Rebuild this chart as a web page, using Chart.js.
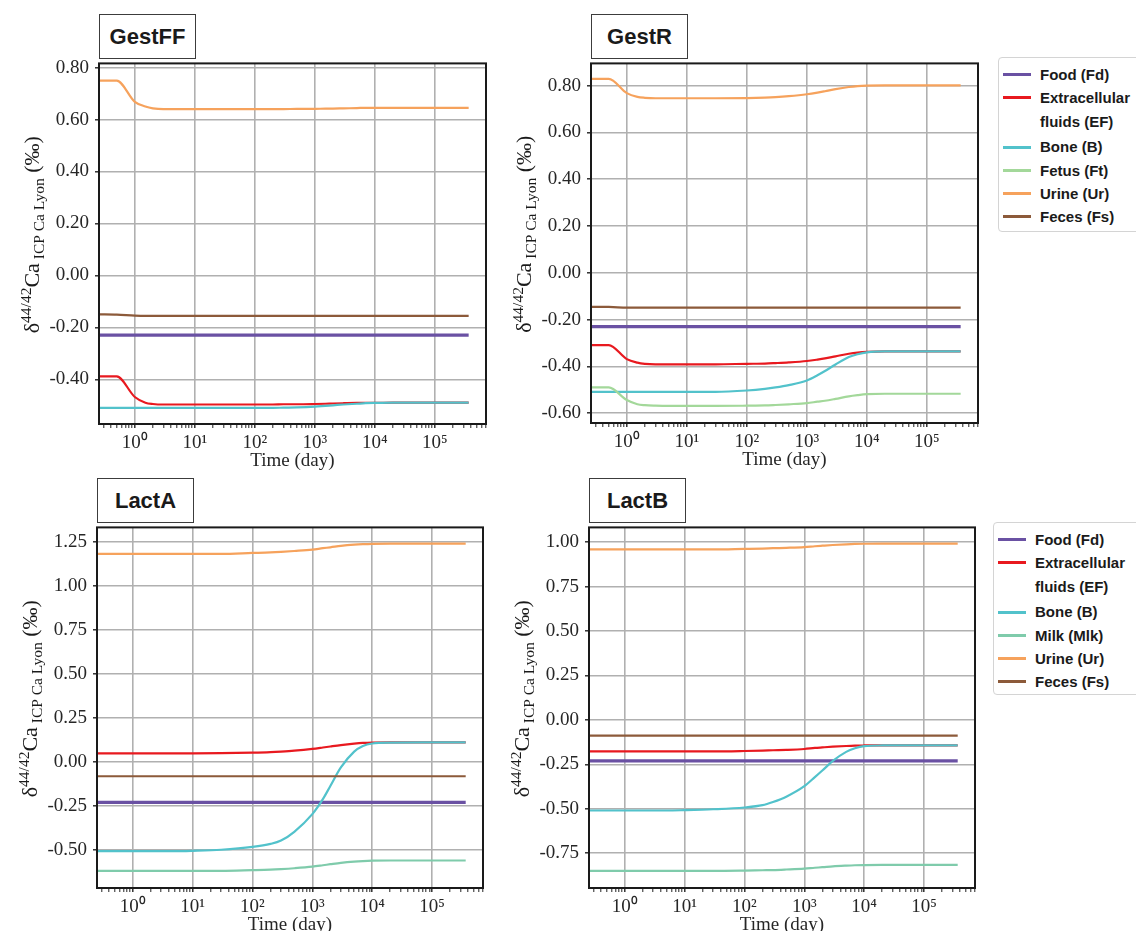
<!DOCTYPE html>
<html>
<head>
<meta charset="utf-8">
<script src="https://cdn.jsdelivr.net/npm/chart.js@4.4.1/dist/chart.umd.min.js"></script>
<style>
  html, body { margin:0; padding:0; background:#fff; }
  body { width:1136px; height:931px; overflow:hidden; position:relative; }
  canvas { position:absolute; }
  .tab { position:absolute; box-sizing:border-box; border:1px solid #3c3c3c; background:#fff;
         font:bold 22px 'Liberation Sans', Arial, sans-serif; color:#1a1a1a;
         display:flex; align-items:center; justify-content:center; }
  .legend { position:absolute; box-sizing:border-box; border:1px solid #d4d4d4; border-radius:4px;
            background:#fff; font:bold 15px 'Liberation Sans', Arial, sans-serif; color:#1a1a1a;
            padding-top:5px; line-height:23.3px; }
  .item { display:flex; align-items:flex-start; }
  .item.multi { margin-bottom:2.5px; }
  .sample { width:28px; height:3px; margin:10.2px 9px 0 4px; flex:none; }
</style>
</head>
<body>
<script>
// ---------------- data ----------------
const timeDays = [0.25, 0.5, 1, 1.5, 2, 3, 5, 10, 30, 100, 200, 300, 500, 1000, 1500, 2000, 3000, 5000, 7000, 10000, 20000, 100000, 365000];

const xMajorTicks  = [1, 10, 100, 1000, 10000, 100000];
const xMajorLabels = ['10⁰', '10¹', '10²', '10³', '10⁴', '10⁵'];
const xMinorFactors = [2, 3, 4, 5, 6, 7, 8, 9];

const yTicksGestFF = [-0.4, -0.2, 0, 0.2, 0.4, 0.6, 0.8];
const yTicksGestR  = [-0.6, -0.4, -0.2, 0, 0.2, 0.4, 0.6, 0.8];
const yTicksLactA  = [-0.5, -0.25, 0, 0.25, 0.5, 0.75, 1.0, 1.25];
const yTicksLactB  = [-0.75, -0.5, -0.25, 0, 0.25, 0.5, 0.75, 1.0];

const panelTitles = ['GestFF', 'GestR', 'LactA', 'LactB'];

// GestFF
const gestFF_food  = [-0.230,-0.230,-0.230,-0.230,-0.230,-0.230,-0.230,-0.230,-0.230,-0.230,-0.230,-0.230,-0.230,-0.230,-0.230,-0.230,-0.230,-0.230,-0.230,-0.230,-0.230,-0.230,-0.230];
const gestFF_ef    = [-0.389,-0.389,-0.468,-0.490,-0.495,-0.497,-0.497,-0.497,-0.497,-0.497,-0.497,-0.496,-0.496,-0.495,-0.494,-0.493,-0.492,-0.491,-0.491,-0.491,-0.490,-0.490,-0.490];
const gestFF_bone  = [-0.510,-0.510,-0.510,-0.510,-0.510,-0.510,-0.510,-0.510,-0.510,-0.510,-0.510,-0.509,-0.508,-0.505,-0.502,-0.500,-0.497,-0.494,-0.492,-0.491,-0.490,-0.490,-0.490];
const gestFF_urine = [0.750,0.750,0.668,0.650,0.643,0.640,0.640,0.640,0.640,0.640,0.640,0.640,0.641,0.641,0.642,0.642,0.643,0.644,0.645,0.645,0.645,0.645,0.645];
const gestFF_feces = [-0.150,-0.151,-0.155,-0.156,-0.156,-0.156,-0.156,-0.156,-0.156,-0.156,-0.156,-0.156,-0.156,-0.156,-0.156,-0.156,-0.156,-0.156,-0.156,-0.156,-0.156,-0.156,-0.156];

// GestR
const gestR_food  = [-0.230,-0.230,-0.230,-0.230,-0.230,-0.230,-0.230,-0.230,-0.230,-0.230,-0.230,-0.230,-0.230,-0.230,-0.230,-0.230,-0.230,-0.230,-0.230,-0.230,-0.230,-0.230,-0.230];
const gestR_ef    = [-0.309,-0.309,-0.369,-0.384,-0.389,-0.391,-0.391,-0.391,-0.391,-0.389,-0.388,-0.386,-0.383,-0.377,-0.371,-0.366,-0.357,-0.346,-0.341,-0.338,-0.336,-0.336,-0.336];
const gestR_bone  = [-0.509,-0.509,-0.509,-0.509,-0.509,-0.509,-0.509,-0.509,-0.509,-0.503,-0.496,-0.490,-0.480,-0.460,-0.438,-0.420,-0.392,-0.360,-0.348,-0.340,-0.336,-0.336,-0.336];
const gestR_fetus = [-0.490,-0.490,-0.544,-0.562,-0.566,-0.568,-0.569,-0.569,-0.569,-0.568,-0.567,-0.565,-0.562,-0.557,-0.551,-0.547,-0.539,-0.528,-0.523,-0.519,-0.517,-0.517,-0.517];
const gestR_urine = [0.829,0.829,0.768,0.752,0.748,0.746,0.746,0.746,0.746,0.747,0.749,0.751,0.755,0.763,0.770,0.776,0.785,0.794,0.798,0.800,0.801,0.801,0.801];
const gestR_feces = [-0.146,-0.146,-0.149,-0.149,-0.149,-0.149,-0.149,-0.149,-0.149,-0.149,-0.149,-0.149,-0.149,-0.149,-0.149,-0.149,-0.149,-0.149,-0.149,-0.149,-0.149,-0.149,-0.149];

// LactA
const lactA_food  = [-0.228,-0.228,-0.228,-0.228,-0.228,-0.228,-0.228,-0.228,-0.228,-0.228,-0.228,-0.228,-0.228,-0.228,-0.228,-0.228,-0.228,-0.228,-0.228,-0.228,-0.228,-0.228,-0.228];
const lactA_ef    = [0.050,0.050,0.050,0.050,0.050,0.050,0.050,0.050,0.051,0.054,0.057,0.060,0.065,0.075,0.083,0.089,0.097,0.105,0.109,0.111,0.112,0.112,0.112];
const lactA_bone  = [-0.505,-0.505,-0.505,-0.505,-0.505,-0.505,-0.505,-0.503,-0.497,-0.481,-0.464,-0.445,-0.395,-0.295,-0.210,-0.135,-0.030,0.060,0.092,0.106,0.111,0.112,0.112];
const lactA_milk  = [-0.617,-0.617,-0.617,-0.617,-0.617,-0.617,-0.617,-0.617,-0.617,-0.613,-0.610,-0.607,-0.602,-0.593,-0.585,-0.579,-0.571,-0.564,-0.561,-0.559,-0.558,-0.558,-0.558];
const lactA_urine = [1.182,1.182,1.182,1.182,1.182,1.182,1.182,1.182,1.182,1.187,1.190,1.193,1.198,1.206,1.214,1.219,1.227,1.234,1.237,1.239,1.240,1.240,1.240];
const lactA_feces = [-0.080,-0.080,-0.080,-0.080,-0.080,-0.080,-0.080,-0.080,-0.080,-0.080,-0.080,-0.080,-0.080,-0.080,-0.080,-0.080,-0.080,-0.080,-0.080,-0.080,-0.080,-0.080,-0.080];

// LactB
const lactB_food  = [-0.231,-0.231,-0.231,-0.231,-0.231,-0.231,-0.231,-0.231,-0.231,-0.231,-0.231,-0.231,-0.231,-0.231,-0.231,-0.231,-0.231,-0.231,-0.231,-0.231,-0.231,-0.231,-0.231];
const lactB_ef    = [-0.177,-0.177,-0.177,-0.177,-0.177,-0.177,-0.177,-0.177,-0.177,-0.175,-0.173,-0.171,-0.169,-0.164,-0.158,-0.155,-0.151,-0.147,-0.145,-0.144,-0.143,-0.143,-0.143];
const lactB_bone  = [-0.510,-0.510,-0.510,-0.510,-0.510,-0.510,-0.510,-0.508,-0.503,-0.493,-0.480,-0.462,-0.432,-0.373,-0.322,-0.285,-0.231,-0.180,-0.160,-0.148,-0.144,-0.143,-0.143];
const lactB_milk  = [-0.850,-0.850,-0.850,-0.850,-0.850,-0.850,-0.850,-0.850,-0.850,-0.848,-0.846,-0.845,-0.842,-0.837,-0.832,-0.829,-0.824,-0.820,-0.818,-0.817,-0.816,-0.816,-0.816];
const lactB_urine = [0.959,0.959,0.959,0.959,0.959,0.959,0.959,0.959,0.959,0.962,0.964,0.966,0.968,0.972,0.977,0.980,0.984,0.988,0.990,0.991,0.992,0.992,0.992];
const lactB_feces = [-0.089,-0.089,-0.089,-0.089,-0.089,-0.089,-0.089,-0.089,-0.089,-0.089,-0.089,-0.089,-0.089,-0.089,-0.089,-0.089,-0.089,-0.089,-0.089,-0.089,-0.089,-0.089,-0.089];

// series names (legend order)
const seriesKeys   = ['food', 'ef', 'bone', 'fetus', 'milk', 'urine', 'feces'];
const seriesLabels = {food:'Food (Fd)', ef:'Extracellular\nfluids (EF)', bone:'Bone (B)', fetus:'Fetus (Ft)', milk:'Milk (Mlk)', urine:'Urine (Ur)', feces:'Feces (Fs)'};
const legendTopKeys    = ['food', 'ef', 'bone', 'fetus', 'urine', 'feces'];
const legendBottomKeys = ['food', 'ef', 'bone', 'milk', 'urine', 'feces'];

// ---------------- styles ----------------
const seriesColors = {food:'#6a51a3', ef:'#e8191f', bone:'#52c2cb', fetus:'#a3d89a', milk:'#7fcbab', urine:'#f6a25c', feces:'#8c5a3a'};
const seriesWidths = {food:3.2, ef:2.2, bone:2.2, fetus:2.2, milk:2.2, urine:2.2, feces:2.2};

const panels = [
  {title:'GestFF', L:99,  T:58,  R:486, B:424, yMin:-0.572, yMax:0.816, yTicks:yTicksGestFF,
   series:{food:gestFF_food, ef:gestFF_ef, bone:gestFF_bone, urine:gestFF_urine, feces:gestFF_feces}, tab:{x:99, y:14}},
  {title:'GestR',  L:591, T:58,  R:978, B:423, yMin:-0.642, yMax:0.895, yTicks:yTicksGestR,
   series:{food:gestR_food, ef:gestR_ef, bone:gestR_bone, fetus:gestR_fetus, urine:gestR_urine, feces:gestR_feces}, tab:{x:591, y:14}},
  {title:'LactA',  L:97,  T:522, R:483, B:888, yMin:-0.714, yMax:1.332, yTicks:yTicksLactA,
   series:{food:lactA_food, ef:lactA_ef, bone:lactA_bone, milk:lactA_milk, urine:lactA_urine, feces:lactA_feces}, tab:{x:97, y:478}},
  {title:'LactB',  L:589, T:522, R:975, B:888, yMin:-0.946, yMax:1.083, yTicks:yTicksLactB,
   series:{food:lactB_food, ef:lactB_ef, bone:lactB_bone, milk:lactB_milk, urine:lactB_urine, feces:lactB_feces}, tab:{x:589, y:478}}
];

const X_MIN = 0.253, X_MAX = 7.1e5;
const AXIS_W = 100, AXIS_H = 48, PAD_T = 12, PAD_R = 4;
const serif = "'Liberation Serif', 'Times New Roman', serif";

// x tick values (majors + minors)
const xTickValues = [];
for (let e = -1; e <= 5; e++) {
  const base = Math.pow(10, e);
  if (e >= 0) xTickValues.push(base);
  xMinorFactors.forEach(f => { const v = +(f * base).toPrecision(6); if (v >= X_MIN && v <= X_MAX) xTickValues.push(v); });
}
xTickValues.sort((a, b) => a - b);

// ---------------- plugins ----------------
const framePlugin = {
  id: 'frame',
  afterDraw(chart) {
    const a = chart.chartArea, ctx = chart.ctx;
    ctx.save();
    ctx.strokeStyle = '#1a1a1a';
    ctx.lineWidth = 2;
    ctx.strokeRect(a.left, a.top, a.right - a.left, a.bottom - a.top);
    ctx.restore();
  }
};

const yLabelPlugin = {
  id: 'ylabel',
  afterDraw(chart) {
    const a = chart.chartArea, ctx = chart.ctx;
    const parts = [
      {t:'δ', s:22, dy:0},
      {t:'44/42', s:15.5, dy:-8},
      {t:'Ca', s:22, dy:0},
      {t:' ICP Ca Lyon', s:15.5, dy:5},
      {t:' (‰)', s:22, dy:0}
    ];
    ctx.save();
    let total = 0;
    parts.forEach(p => { ctx.font = p.s + 'px ' + serif; p.w = ctx.measureText(p.t).width; total += p.w; });
    ctx.translate(a.left - 60, (a.top + a.bottom) / 2 - 9);
    ctx.rotate(-Math.PI / 2);
    ctx.fillStyle = '#1a1a1a';
    ctx.textBaseline = 'alphabetic';
    ctx.textAlign = 'left';
    let x = -total / 2;
    parts.forEach(p => { ctx.font = p.s + 'px ' + serif; ctx.fillText(p.t, x, p.dy); x += p.w; });
    ctx.restore();
  }
};

// ---------------- build ----------------
panels.forEach(p => {
  const cv = document.createElement('canvas');
  const w = AXIS_W + (p.R - p.L) + PAD_R;
  const h = PAD_T + (p.B - p.T) + AXIS_H;
  cv.width = w; cv.height = h;
  cv.style.left = (p.L - AXIS_W) + 'px';
  cv.style.top = (p.T - PAD_T) + 'px';
  cv.style.width = w + 'px'; cv.style.height = h + 'px';
  document.body.appendChild(cv);

  const keys = seriesKeys.filter(k => p.series[k]);
  const datasets = keys.map((k, i) => ({
    label: seriesLabels[k],
    data: timeDays.map((t, j) => ({x: t, y: p.series[k][j]})),
    borderColor: seriesColors[k],
    backgroundColor: seriesColors[k],
    borderWidth: seriesWidths[k],
    pointRadius: 0,
    cubicInterpolationMode: 'monotone',
    fill: false,
    order: keys.length - i
  }));

  new Chart(cv, {
    type: 'line',
    data: { datasets },
    options: {
      responsive: false,
      animation: false,
      devicePixelRatio: 1,
      layout: { padding: { top: PAD_T, right: PAD_R, left: 0, bottom: 0 } },
      plugins: { legend: { display: false }, tooltip: { enabled: false }, title: { display: false } },
      scales: {
        x: {
          type: 'logarithmic', position: 'bottom', min: X_MIN, max: X_MAX,
          afterBuildTicks: s => { s.ticks = xTickValues.map(v => ({ value: v, isMajor: xMajorTicks.includes(v) })); },
          afterFit: s => { s.height = AXIS_H; },
          ticks: {
            autoSkip: false, maxRotation: 0, minRotation: 0, padding: 4, color: '#262626',
            font: { family: serif, size: 19 },
            callback: (v) => { const k = xMajorTicks.indexOf(v); return k >= 0 ? xMajorLabels[k] : ''; }
          },
          grid: {
            color: c => (c.tick && c.tick.isMajor) ? '#b0b0b0' : 'rgba(0,0,0,0)',
            lineWidth: 1.6,
            tickColor: '#222',
            tickWidth: c => (c.tick && c.tick.isMajor) ? 1.4 : 1,
            tickLength: 4
          },
          border: { display: false },
          title: { display: true, text: 'Time (day)', color: '#262626', font: { family: serif, size: 19 }, padding: 0 }
        },
        y: {
          type: 'linear', min: p.yMin, max: p.yMax,
          afterBuildTicks: s => { s.ticks = p.yTicks.map(v => ({ value: v })); },
          afterFit: s => { s.width = AXIS_W; },
          ticks: {
            padding: 6, color: '#262626', font: { family: serif, size: 19 },
            callback: v => Number(v).toFixed(2)
          },
          grid: { color: '#b0b0b0', lineWidth: 1.6, tickColor: '#222', tickWidth: 1.4, tickLength: 4 },
          border: { display: false }
        }
      }
    },
    plugins: [framePlugin, yLabelPlugin]
  });

  const tab = document.createElement('div');
  tab.className = 'tab';
  tab.textContent = p.title;
  tab.style.left = p.tab.x + 'px';
  tab.style.top = p.tab.y + 'px';
  tab.style.width = '97px';
  tab.style.height = (p.T - p.tab.y + 1) + 'px';
  document.body.appendChild(tab);
});

function buildLegend(keys, left, top, height) {
  const lg = document.createElement('div');
  lg.className = 'legend';
  lg.style.left = left + 'px';
  lg.style.top = top + 'px';
  lg.style.width = '160px';
  lg.style.height = height + 'px';
  keys.forEach(k => {
    const it = document.createElement('div');
    const lines = seriesLabels[k].split('\n');
    it.className = 'item' + (lines.length > 1 ? ' multi' : '');
    const sm = document.createElement('div');
    sm.className = 'sample';
    sm.style.background = seriesColors[k];
    const tx = document.createElement('div');
    lines.forEach((ln, i) => { if (i) tx.appendChild(document.createElement('br')); tx.appendChild(document.createTextNode(ln)); });
    it.appendChild(sm); it.appendChild(tx);
    lg.appendChild(it);
  });
  document.body.appendChild(lg);
}
buildLegend(legendTopKeys, 998, 57, 175);
buildLegend(legendBottomKeys, 993, 522, 173);
</script>
</body>
</html>
